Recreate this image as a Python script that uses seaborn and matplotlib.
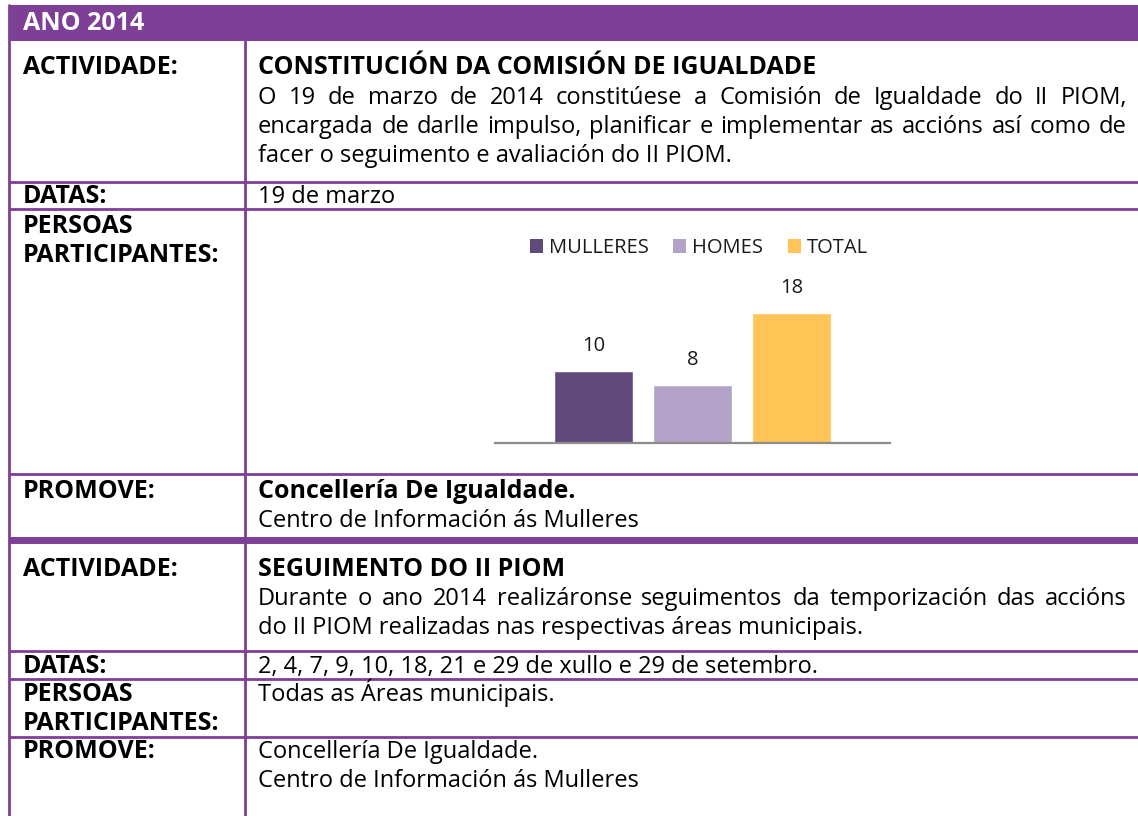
import matplotlib
matplotlib.use("Agg")
import matplotlib.pyplot as plt
import seaborn as sns
from matplotlib.patches import Patch, Rectangle

# bar chart data
series = ["MULLERES", "HOMES", "TOTAL"]
values = [10, 8, 18]
series_colors = ["#604a7b", "#b3a2c7", "#ffc455"]

# table texts
year_title = "ANO 2014"
act1_title = "CONSTITUCIÓN DA COMISIÓN DE IGUALDADE"
act1_body = [
    "O 19 de marzo de 2014 constitúese a Comisión de Igualdade do II PIOM,",
    "encargada de darlle impulso, planificar e implementar as accións así como de",
    "facer o seguimento e avaliación do II PIOM.",
]
act1_dates = "19 de marzo"
act1_promove = ["Concellería De Igualdade.", "Centro de Información ás Mulleres"]

act2_title = "SEGUIMENTO DO II PIOM"
act2_body = [
    "Durante o ano 2014 realizáronse seguimentos da temporización das accións",
    "do II PIOM realizadas nas respectivas áreas municipais.",
]
act2_dates = "2, 4, 7, 9, 10, 18, 21 e 29 de xullo e 29 de setembro."
act2_persoas = "Todas as Áreas municipais."
act2_promove = ["Concellería De Igualdade.", "Centro de Información ás Mulleres"]

PURPLE = "#7e3f97"
FONT = "Open Sans"
FS = 17.0      # regular text
FSB = 18.0     # bold labels and titles

sns.set_theme(style="white")
plt.rcParams["font.family"] = [FONT, "DejaVu Sans"]

fig = plt.figure(figsize=(11.38, 8.16), dpi=100)
bg = fig.add_axes([0, 0, 1, 1])
bg.set_xlim(0, 1138)
bg.set_ylim(816, 0)
bg.axis("off")

W = 1138
XL, XC, XR = 9, 245, 1150
LX, RX, RX_END = 23, 258, 1127


def hline(y, lw=2.0):
    bg.plot([XL, XR], [y, y], color=PURPLE, lw=lw, solid_capstyle="butt")


def put(x, y, s, bold=False, color="black"):
    bg.text(x, y + 8, s, fontsize=FSB if bold else FS,
            fontweight="bold" if bold else "normal",
            color=color, va="baseline", ha="left")


def put_justified(y, s):
    r = fig.canvas.get_renderer()
    words = s.split(" ")
    ts = [bg.text(0, y + 8, w, fontsize=FS, color="black", va="baseline") for w in words]
    widths = [t.get_window_extent(r).width for t in ts]
    gap = (RX_END - RX - sum(widths)) / (len(words) - 1)
    x = RX
    for t, w in zip(ts, widths):
        t.set_x(x)
        x += w + gap


# header band
bg.add_patch(Rectangle((XL, 5), W, 36, color=PURPLE, lw=0))
put(LX, 22, year_title, bold=True, color="white")

# grid lines
for y in [182, 209, 474, 651, 679, 737]:
    hline(y)
hline(540, lw=5)
bg.plot([XL, XL], [5, 816], color=PURPLE, lw=2)
bg.plot([XC, XC], [41, 816], color=PURPLE, lw=2)

# activity 1
put(LX, 66, "ACTIVIDADE:", bold=True)
put(RX, 66, act1_title, bold=True)
put_justified(96, act1_body[0])
put_justified(125, act1_body[1])
put(RX, 154, act1_body[2])
put(LX, 195, "DATAS:", bold=True)
put(RX, 195, act1_dates)
put(LX, 225, "PERSOAS", bold=True)
put(LX, 254, "PARTICIPANTES:", bold=True)
put(LX, 490, "PROMOVE:", bold=True)
put(RX, 490, act1_promove[0], bold=True)
put(RX, 519, act1_promove[1])

# activity 2
put(LX, 568, "ACTIVIDADE:", bold=True)
put(RX, 568, act2_title, bold=True)
put_justified(597, act2_body[0])
put(RX, 626, act2_body[1])
put(LX, 665, "DATAS:", bold=True)
put(RX, 665, act2_dates)
put(LX, 693, "PERSOAS", bold=True)
put(LX, 722, "PARTICIPANTES:", bold=True)
put(RX, 693, act2_persoas)
put(LX, 750, "PROMOVE:", bold=True)
put(RX, 750, act2_promove[0])
put(RX, 779, act2_promove[1])

# bar chart inside the PERSOAS cell
ax = fig.add_axes([495 / W, (816 - 443) / 816, 395 / W, 144 / 816])
sns.barplot(x=series, y=values, hue=series, palette=series_colors,
            width=0.8, saturation=1, legend=False, ax=ax)
ax.set_xlim(-1, 3)
ax.set_ylim(0, 20)
ax.set_xticks([])
ax.set_yticks([])
ax.set_facecolor("none")
for side in ["top", "right", "left"]:
    ax.spines[side].set_visible(False)
ax.spines["bottom"].set_color("#8c8c8c")
ax.spines["bottom"].set_linewidth(1.6)
for cont in ax.containers:
    ax.bar_label(cont, padding=11, fontsize=14.5, color="#1a1a1a")

handles = [Patch(facecolor=c, edgecolor="none", label=s) for s, c in zip(series, series_colors)]
fig.legend(handles=handles, loc="center", bbox_to_anchor=(699 / W, (816 - 248) / 816),
           ncol=3, frameon=False, fontsize=14.5, handlelength=0.65, handleheight=0.65,
           handletextpad=0.3, columnspacing=1.2, labelcolor="#1a1a1a")

fig.savefig("out.png", dpi=100)
